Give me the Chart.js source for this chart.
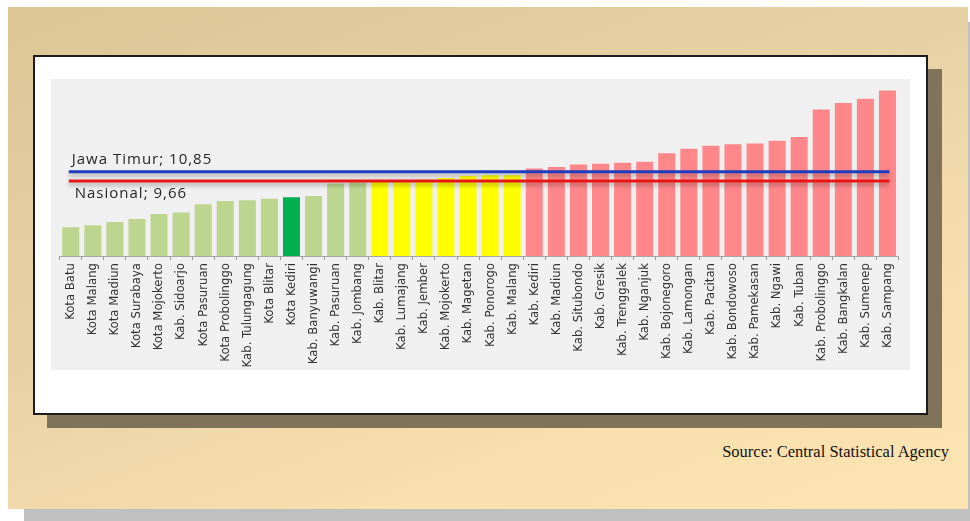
<!DOCTYPE html>
<html>
<head>
<meta charset="utf-8">
<script src="https://cdn.jsdelivr.net/npm/chart.js@4"></script>
<style>
  html, body { margin: 0; padding: 0; background: #ffffff; width: 970px; height: 521px; overflow: hidden; position: relative; }
  .abs { position: absolute; }
  #outerShadow { left: 24px; top: 22px; width: 946px; height: 499px; background: #c0c0c0; }
  #outer { left: 8px; top: 7px; width: 960px; height: 502px; background: linear-gradient(160deg, #dcc696 0%, #e9d3a6 45%, #f8dfae 75%, #fde5b3 100%); }
  #cardShadow { left: 47px; top: 69px; width: 895px; height: 359px; background: #7f7359; }
  #card { left: 33px; top: 55px; width: 891px; height: 356px; background: #ffffff; border: 2px solid #1c1c1c; }
  #plot { left: 51px; top: 79px; width: 859px; height: 291px; background: #f0f0f0; }
  #source { right: 21px; top: 442px; font-family: "Liberation Serif", serif; font-size: 16.5px; color: #111; white-space: nowrap; }
</style>
</head>
<body>
<div class="abs" id="outerShadow"></div>
<div class="abs" id="outer"></div>
<div class="abs" id="cardShadow"></div>
<div class="abs" id="card"></div>
<div class="abs" id="plot"><canvas id="c" width="859" height="291"></canvas></div>
<div class="abs" id="source">Source: Central Statistical Agency</div>
<script>
const categories = [
  "Kota Batu", "Kota Malang", "Kota Madiun", "Kota Surabaya", "Kota Mojokerto",
  "Kab. Sidoarjo", "Kota Pasuruan", "Kota Probolinggo", "Kab. Tulungagung", "Kota Blitar",
  "Kota Kediri", "Kab. Banyuwangi", "Kab. Pasuruan", "Kab. Jombang", "Kab. Blitar",
  "Kab. Lumajang", "Kab. Jember", "Kab. Mojokerto", "Kab. Magetan", "Kab. Ponorogo",
  "Kab. Malang", "Kab. Kediri", "Kab. Madiun", "Kab. Situbondo", "Kab. Gresik",
  "Kab. Trenggalek", "Kab. Nganjuk", "Kab. Bojonegoro", "Kab. Lamongan", "Kab. Pacitan",
  "Kab. Bondowoso", "Kab. Pamekasan", "Kab. Ngawi", "Kab. Tuban", "Kab. Probolinggo",
  "Kab. Bangkalan", "Kab. Sumenep", "Kab. Sampang"
];
const values = [
  3.70, 3.96, 4.39, 4.77, 5.42,
  5.59, 6.67, 7.10, 7.19, 7.39,
  7.57, 7.74, 9.33, 9.46, 9.70,
  9.75, 9.81, 10.06, 10.32, 10.41,
  10.41, 11.26, 11.48, 11.78, 11.87,
  12.00, 12.13, 13.25, 13.81, 14.19,
  14.41, 14.49, 14.84, 15.32, 18.88,
  19.70, 20.26, 21.33
];
const jawaTimur = 10.85;
const nasional = 9.66;
const highlighted = "Kota Kediri";
const refLabels = { jawaTimur: "Jawa Timur; 10,85", nasional: "Nasional; 9,66" };

const COLORS = { low: "#bcd58f", highlight: "#00b050", mid: "#ffff00", high: "#ff878a" };
const barColors = categories.map((c, i) => {
  if (c === highlighted) return COLORS.highlight;
  if (values[i] > jawaTimur) return COLORS.high;
  if (values[i] > nasional) return COLORS.mid;
  return COLORS.low;
});

const refLinesPlugin = {
  id: "refLines",
  afterDatasetsDraw(chart) {
    const { ctx, scales: { x, y } } = chart;
    const x0 = x.getPixelForValue(0) - 2;
    const x1 = x.getPixelForValue(categories.length - 1) + 2;
    const yJ = y.getPixelForValue(jawaTimur);
    const yN = y.getPixelForValue(nasional);
    ctx.save();
    ctx.shadowColor = "rgba(0,0,0,0.30)";
    ctx.shadowBlur = 4;
    ctx.shadowOffsetY = 3;
    ctx.lineWidth = 3;
    ctx.lineCap = "butt";
    ctx.strokeStyle = "#1f3cbe";
    ctx.beginPath(); ctx.moveTo(x0, yJ); ctx.lineTo(x1, yJ); ctx.stroke();
    ctx.strokeStyle = "#e81515";
    ctx.beginPath(); ctx.moveTo(x0, yN); ctx.lineTo(x1, yN); ctx.stroke();
    ctx.restore();
    ctx.save();
    ctx.fillStyle = "#262626";
    ctx.font = "15px 'Open Sans'";
    if ("letterSpacing" in ctx) ctx.letterSpacing = "1px";
    ctx.textBaseline = "alphabetic";
    ctx.textAlign = "left";
    ctx.fillText(refLabels.jawaTimur, x0 + 3, yJ - 8);
    ctx.fillText(refLabels.nasional, x0 + 6, yN + 17);
    ctx.restore();
  }
};

new Chart(document.getElementById("c"), {
  type: "bar",
  data: {
    labels: categories,
    datasets: [{
      data: values,
      backgroundColor: barColors,
      borderWidth: 0,
      barPercentage: 0.77,
      categoryPercentage: 1.0
    }]
  },
  options: {
    responsive: false,
    animation: false,
    events: [],
    layout: { padding: { left: 8.7, right: 11.5, top: 0, bottom: 0 } },
    plugins: { legend: { display: false }, tooltip: { enabled: false } },
    scales: {
      x: {
        offset: true,
        grid: { display: true, drawOnChartArea: false, offset: true, tickLength: 4, color: "#9a9a9a", lineWidth: 1 },
        border: { display: true, color: "#a6a6a6", width: 1 },
        ticks: {
          autoSkip: false, maxRotation: 90, minRotation: 90, padding: 3,
          color: "#333333",
          font: { family: "'Liberation Sans Narrow', 'DejaVu Sans Condensed', sans-serif", size: 13 }
        },
        afterFit(scale) { scale.height = 114; }
      },
      y: {
        display: false,
        min: 0,
        max: 22.8
      }
    }
  },
  plugins: [refLinesPlugin]
});
</script>
</body>
</html>
